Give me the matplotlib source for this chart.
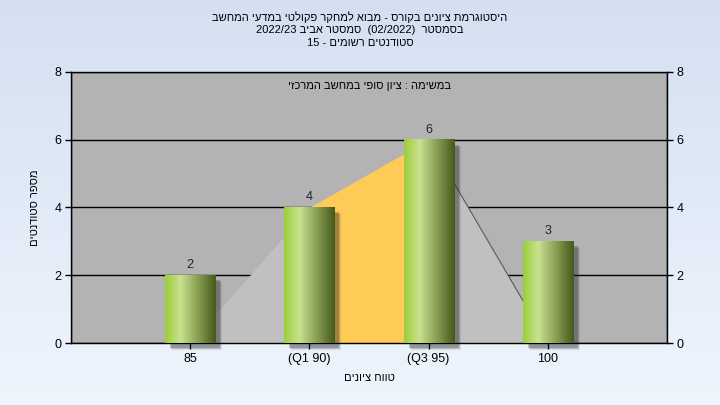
import re
import numpy as np
import matplotlib
matplotlib.use('Agg')
import matplotlib.pyplot as plt
from matplotlib.colors import LinearSegmentedColormap
from matplotlib.patches import Rectangle

plt.rcParams['font.family'] = ['Liberation Sans', 'DejaVu Sans']


def rtl(s):
    # hebrew -> visual order (matplotlib has no bidi)
    r = s[::-1]
    r = re.sub(r'[0-9A-Za-z/.]+', lambda m: m.group(0)[::-1], r)
    return r.translate(str.maketrans('()', ')('))


# data
categories = ['85', '(Q1 90)', '(Q3 95)', '100']
counts = [2, 4, 6, 3]
curve = [0, 4, 6, 0]
title_lines = ['היסטוגרמת ציונים בקורס - מבוא למחקר פקולטי במדעי המחשב',
               'בסמסטר  (02/2022)  סמסטר אביב 2022/23',
               'סטודנטים רשומים - 15']
note = 'במשימה : ציון סופי במחשב המרכזי'
xlabel = 'טווח ציונים'
ylabel = 'מספר סטודנטים'

fig = plt.figure(figsize=(7.2, 4.05), dpi=100)

# background gradient
bg = fig.add_axes([0, 0, 1, 1], zorder=-10)
bg_cmap = LinearSegmentedColormap.from_list('bg', ['#d4e0f1', '#eef5fd'])
bg.imshow(np.linspace(0, 1, 256).reshape(-1, 1), cmap=bg_cmap, aspect='auto',
          extent=[0, 1, 0, 1])
bg.axis('off')

ax = fig.add_axes([71 / 720, 62 / 405, 596 / 720, 271 / 405])
ax.set_facecolor('#b3b3b3')

x = np.arange(1, len(counts) + 1)

# area behind bars
ax.fill_between(x, curve, color='#c0c0c0', lw=0, zorder=1)
ax.fill_between(x[1:3], curve[1:3], color='#fecb57', lw=0, zorder=1.1)
ax.plot(x[2:4], curve[2:4], color='#5a5a5a', lw=0.8, zorder=1.2)

bar_cmap = LinearSegmentedColormap.from_list(
    'bar', [(0, '#9ccd3a'), (0.3, '#c8e28f'), (0.62, '#8ea558'), (1, '#45591b')])
grad = np.linspace(0, 1, 128).reshape(1, -1)
w = 0.42
px_x = 1 / 119.4
px_y = 1 / 33.9
for xi, h in zip(x, counts):
    for k, a in [(7, 0.10), (6, 0.15), (5, 0.25)]:
        ax.add_patch(Rectangle((xi - w / 2 + k * px_x, -k * px_y), w, h,
                               color='#202020', alpha=a, lw=0, zorder=2,
                               clip_on=False))
    ax.imshow(grad, cmap=bar_cmap, aspect='auto', zorder=3,
              extent=[xi - w / 2, xi + w / 2, 0, h])
    ax.text(xi, h + 0.12, str(h), ha='center', va='bottom', fontsize=9,
            color='#1c2633', zorder=4)

ax.set_xlim(0, 5)
ax.set_ylim(0, 8)
ax.set_xticks(x)
ax.set_xticklabels(categories, fontsize=9)
ax.set_yticks([0, 2, 4, 6, 8])
ax.set_xticks(range(6), minor=True)
ax.grid(which='minor', axis='x', color='black', lw=1, zorder=0)
ax.grid(which='major', axis='y', color='black', lw=1, zorder=0)
ax.set_axisbelow(True)
ax.tick_params(axis='x', which='minor', length=0)
ax.tick_params(axis='both', which='major', length=4, width=1, pad=3,
               labelsize=9, direction='out')
ax.tick_params(axis='y', right=True, labelright=True)
for sp in ax.spines.values():
    sp.set_color('black')
    sp.set_linewidth(1)

ax.text(2.5, 7.58, rtl(note), ha='center', va='center', fontsize=8, zorder=5)
ax.set_xlabel(rtl(xlabel), fontsize=8, labelpad=6)
ax.set_ylabel(rtl(ylabel), fontsize=8, labelpad=10)

for i, line in enumerate(title_lines):
    fig.text(0.5, 1 - (17 + 13 * i) / 405, rtl(line), ha='center',
             va='center', fontsize=8)

fig.savefig('out.png', dpi=100)
